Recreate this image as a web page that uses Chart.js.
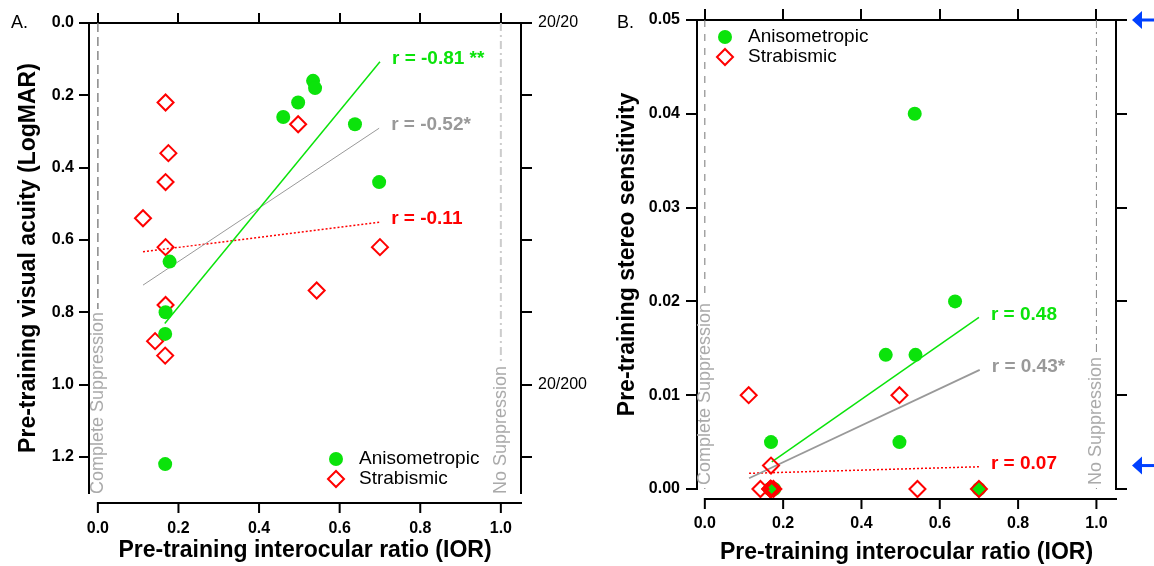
<!DOCTYPE html>
<html>
<head>
<meta charset="utf-8">
<title>Pre-training IOR vs visual acuity and stereo sensitivity</title>
<script src="https://cdn.jsdelivr.net/npm/chart.js@4.4.1/dist/chart.umd.min.js"></script>
<style>
  html, body { margin: 0; padding: 0; background: #fff; }
  #wrap { position: relative; width: 1154px; height: 566px; overflow: hidden; }
  #panel-a { position: absolute; left: 0; top: 0; }
  #panel-b { position: absolute; left: 600px; top: 0; }
</style>
</head>
<body>
<div id="wrap">
  <canvas id="panel-a" width="600" height="566"></canvas>
  <canvas id="panel-b" width="554" height="566"></canvas>
</div>
<script>
// Tick values shared by both panels
const iorTicks = [0, 0.2, 0.4, 0.6, 0.8, 1.0];
const acuityTicks = [0, 0.2, 0.4, 0.6, 0.8, 1.0, 1.2];
const snellenValues = [0, 1.0];
const snellenLabels = ['20/20', '20/200'];
const stereoTicks = [0, 0.01, 0.02, 0.03, 0.04, 0.05];

// Panel A - visual acuity (LogMAR)
const anisoIorA = [0.534, 0.539, 0.497, 0.460, 0.638, 0.698, 0.178, 0.168, 0.167, 0.167];
const anisoAcuity = [0.16, 0.18, 0.22, 0.26, 0.28, 0.44, 0.66, 0.80, 0.86, 1.22];
const strabIorA = [0.168, 0.497, 0.175, 0.168, 0.112, 0.168, 0.700, 0.543, 0.168, 0.142, 0.167];
const strabAcuity = [0.22, 0.28, 0.36, 0.44, 0.54, 0.62, 0.62, 0.74, 0.78, 0.88, 0.92];

// regression lines (end points), panel A
const fitIorAnisoA = [0.166, 0.700];
const fitAcuityAniso = [0.831, 0.107];
const fitIorAllA = [0.112, 0.698];
const fitAcuityAll = [0.725, 0.291];
const fitIorStrabA = [0.112, 0.698];
const fitAcuityStrab = [0.633, 0.551];
const rLabelsA = ['r = -0.81 **', 'r = -0.52*', 'r = -0.11'];

// Panel B - stereo sensitivity
const anisoIorB = [0.536, 0.639, 0.462, 0.538, 0.169, 0.497, 0.177, 0.700, 0.167, 0.167];
const anisoStereo = [0.04, 0.02, 0.0143, 0.0143, 0.005, 0.005, 0, 0, 0, 0];
const strabIorB = [0.112, 0.497, 0.169, 0.142, 0.169, 0.175, 0.168, 0.167, 0.543, 0.700, 0.168];
const strabStereo = [0.01, 0.01, 0.0025, 0, 0, 0, 0, 0, 0, 0, 0];

const fitIorAnisoB = [0.171, 0.700];
const fitStereoAniso = [0.0029, 0.0183];
const fitIorAllB = [0.113, 0.702];
const fitStereoAll = [0.00114, 0.0127];
const fitIorStrabB = [0.113, 0.700];
const fitStereoStrab = [0.00167, 0.00237];
const rLabelsB = ['r = 0.48', 'r = 0.43*', 'r = 0.07'];

// arrows on the right axis of panel B
const normalStereo = [0.05, 0.0025];

const FONT = "'Liberation Sans', Arial, Helvetica, sans-serif";
const GREEN = '#0be30b';
const RED = '#ff0000';
const GREY = '#999999';
const BLUE = '#0040ff';

const pts = (xs, ys) => xs.map((x, i) => ({ x: x, y: ys[i] }));

function fixedTicks(values) {
    return scale => { scale.ticks = values.map(v => ({ value: v })); };
}

function marker(ctx, style, r, x, y) {
    ctx.beginPath();
    if (style === 'circle') {
        ctx.arc(x, y, r, 0, Math.PI * 2);
    } else {
        ctx.moveTo(x - r, y);
        ctx.lineTo(x, y - r);
        ctx.lineTo(x + r, y);
        ctx.lineTo(x, y + r);
        ctx.closePath();
    }
    ctx.fill();
}

// Extra drawing: reference lines, offset bottom axis, r labels, legend, arrows
const decor = {
    id: 'decor',
    beforeDatasetsDraw(chart, args, o) {
        const { ctx, chartArea: a } = chart;
        const x = chart.scales.x;
        ctx.save();
        ctx.font = '18px ' + FONT;
        o.refLines.forEach(r => {
            const px = x.getPixelForValue(r.value);
            const yb = a.bottom + o.refTextShift;
            const w = ctx.measureText(r.text).width;
            ctx.strokeStyle = r.color;
            ctx.lineWidth = r.width;
            ctx.setLineDash(r.dash);
            ctx.beginPath();
            ctx.moveTo(px, a.top);
            ctx.lineTo(px, yb - w - 3);
            if (yb + 3 < a.bottom) {
                ctx.moveTo(px, yb + 3);
                ctx.lineTo(px, a.bottom);
            }
            ctx.stroke();
            ctx.setLineDash([]);
            ctx.save();
            ctx.translate(px, yb);
            ctx.rotate(-Math.PI / 2);
            ctx.fillStyle = '#aaaaaa';
            ctx.textAlign = 'left';
            ctx.textBaseline = 'middle';
            ctx.fillText(r.text, 0, 0);
            ctx.restore();
        });
        ctx.restore();
    },
    afterDraw(chart, args, o) {
        const { ctx, chartArea: a } = chart;
        const { x, y } = chart.scales;
        ctx.save();

        // bottom axis sits a little below the plot
        const by = a.bottom + o.axisGap;
        ctx.strokeStyle = '#000';
        ctx.lineWidth = 2;
        ctx.beginPath();
        ctx.moveTo(x.getPixelForValue(iorTicks[0]) - 1, by);
        ctx.lineTo(a.right + 1, by);
        iorTicks.forEach(v => {
            const px = x.getPixelForValue(v);
            ctx.moveTo(px, by);
            ctx.lineTo(px, by + 10);
        });
        ctx.stroke();

        // correlation labels at the end of each fit line
        ctx.font = 'bold 19px ' + FONT;
        ctx.textAlign = 'left';
        ctx.textBaseline = 'middle';
        chart.data.datasets.forEach((ds, i) => {
            if (!ds.fitLabel) return;
            const els = chart.getDatasetMeta(i).data;
            const end = els[els.length - 1];
            ctx.fillStyle = ds.labelColor;
            ctx.fillText(ds.fitLabel, end.x + 12, end.y - 3);
        });

        // legend inside the plot
        ctx.font = '19px ' + FONT;
        let k = 0;
        chart.data.datasets.forEach(ds => {
            if (!ds.legendLabel) return;
            const ly = o.legend.y + k * o.legend.dy;
            if (ds.pointStyle === 'circle') {
                ctx.fillStyle = ds.backgroundColor;
                marker(ctx, 'circle', ds.pointRadius, o.legend.x, ly);
            } else {
                ctx.fillStyle = '#fff';
                marker(ctx, 'diamond', ds.pointRadius, o.legend.x, ly);
                ctx.strokeStyle = ds.borderColor;
                ctx.lineWidth = ds.borderWidth;
                ctx.stroke();
            }
            ctx.fillStyle = '#000';
            ctx.fillText(ds.legendLabel, o.legend.x + 23, ly);
            k++;
        });

        // panel letter
        ctx.font = '18px ' + FONT;
        ctx.fillText(o.letter, o.letterX, 23);

        // arrows to the right of the axis
        ctx.fillStyle = BLUE;
        (o.arrows || []).forEach(v => {
            const py = y.getPixelForValue(v);
            const ax = a.right + 16;
            ctx.beginPath();
            ctx.moveTo(ax, py);
            ctx.lineTo(ax + 10, py - 9);
            ctx.lineTo(ax + 10, py + 9);
            ctx.closePath();
            ctx.fill();
            ctx.fillRect(ax + 8, py - 1.5, chart.width - ax - 8, 3);
        });
        ctx.restore();
    }
};

function scatterSets(p) {
    const aniso = {
        label: 'Anisometropic', legendLabel: 'Anisometropic',
        data: p.aniso, pointStyle: 'circle', pointRadius: 7,
        backgroundColor: GREEN, borderColor: GREEN, borderWidth: 0,
        order: p.anisoOrder, clip: false
    };
    const strab = {
        label: 'Strabismic', legendLabel: 'Strabismic',
        data: p.strab, pointStyle: 'rectRot', pointRadius: 8,
        backgroundColor: 'rgba(0,0,0,0)', borderColor: RED, borderWidth: 2,
        order: p.strabOrder, clip: false
    };
    const fits = [
        { data: p.fitAniso, borderColor: GREEN, borderWidth: 1.5, labelColor: GREEN, fitLabel: p.rLabels[0] },
        { data: p.fitAll, borderColor: GREY, borderWidth: p.greyWidth, labelColor: GREY, fitLabel: p.rLabels[1] },
        { data: p.fitStrab, borderColor: RED, borderWidth: 1.5, borderDash: [2, 2], labelColor: RED, fitLabel: p.rLabels[2] }
    ].map(f => Object.assign(f, { showLine: true, pointRadius: 0, order: 5, clip: false, fill: false }));
    return [aniso, strab].concat(fits);
}

function makePanel(id, p) {
    const H = 566;
    const tickFont = { family: FONT, size: 16, weight: 'bold' };
    const titleFont = { family: FONT, size: 23, weight: 'bold' };
    const axisGrid = len => ({ drawOnChartArea: false, tickLength: len, color: '#000', lineWidth: 2 });
    const axisBorder = { display: true, color: '#000', width: 2 };

    return new Chart(document.getElementById(id), {
        type: 'scatter',
        data: { datasets: scatterSets(p) },
        options: {
            responsive: false,
            animation: false,
            devicePixelRatio: 1,
            events: [],
            layout: { padding: 0 },
            plugins: {
                legend: { display: false },
                tooltip: { enabled: false },
                decor: p.decor
            },
            scales: {
                x: {
                    type: 'linear', position: 'bottom', min: p.xMin, max: p.xMax,
                    afterBuildTicks: fixedTicks(iorTicks),
                    afterFit: s => { s.height = H - p.bottom; },
                    border: { display: false },
                    grid: { drawOnChartArea: false, tickLength: p.xLabelGap, color: 'rgba(0,0,0,0)' },
                    ticks: { padding: 0, autoSkip: false, maxRotation: 0, color: '#000', font: tickFont,
                             callback: v => v.toFixed(1) },
                    title: { display: true, text: 'Pre-training interocular ratio (IOR)', color: '#000',
                             font: titleFont, padding: { top: 0, bottom: p.xTitlePad } }
                },
                x2: {
                    type: 'linear', position: 'top', min: p.xMin, max: p.xMax,
                    afterBuildTicks: fixedTicks(iorTicks),
                    afterFit: s => { s.height = p.top; },
                    border: axisBorder,
                    grid: axisGrid(p.topTick),
                    ticks: { display: false }
                },
                y: {
                    type: 'linear', position: 'left', min: p.yMin, max: p.yMax, reverse: p.reverse,
                    afterBuildTicks: fixedTicks(p.yTicks),
                    afterFit: s => { s.width = p.left; },
                    border: axisBorder,
                    grid: axisGrid(p.leftTick),
                    ticks: { padding: p.yLabelPad, autoSkip: false, color: '#000', font: tickFont,
                             callback: p.yFormat },
                    title: { display: true, text: p.yTitle, color: '#000', font: titleFont,
                             padding: { top: p.yTitlePad, bottom: 0 } }
                },
                y2: {
                    type: 'linear', position: 'right', min: p.yMin, max: p.yMax, reverse: p.reverse,
                    afterBuildTicks: fixedTicks(p.yTicks),
                    afterFit: s => { s.width = p.width - p.right; },
                    border: axisBorder,
                    grid: axisGrid(11),
                    ticks: { display: p.rightLabels, padding: 6, autoSkip: false, color: '#000',
                             font: { family: FONT, size: 16 },
                             callback: v => {
                                 const i = snellenValues.indexOf(v);
                                 return i < 0 ? '' : snellenLabels[i];
                             } }
                }
            }
        },
        plugins: [decor]
    });
}

makePanel('panel-a', {
    width: 600, left: 89, right: 521, top: 23, bottom: 493,
    xMin: -0.022, xMax: 1.05, yMin: 0, yMax: 1.3, reverse: true,
    yTicks: acuityTicks, yFormat: v => v.toFixed(1),
    yTitle: 'Pre-training visual acuity (LogMAR)',
    xLabelGap: 26, xTitlePad: 2, yLabelPad: 5, yTitlePad: 14.5,
    leftTick: 10, topTick: 10, rightLabels: true,
    aniso: pts(anisoIorA, anisoAcuity), strab: pts(strabIorA, strabAcuity),
    anisoOrder: 0, strabOrder: 1, greyWidth: 1,
    fitAniso: pts(fitIorAnisoA, fitAcuityAniso),
    fitAll: pts(fitIorAllA, fitAcuityAll),
    fitStrab: pts(fitIorStrabA, fitAcuityStrab),
    rLabels: rLabelsA,
    decor: {
        axisGap: 10, refTextShift: 1, letter: 'A.', letterX: 11,
        legend: { x: 336, y: 459, dy: 20 },
        refLines: [
            { value: 0, text: 'Complete Suppression', color: '#888', width: 1.5, dash: [9, 5] },
            { value: 1, text: 'No Suppression', color: '#cccccc', width: 2, dash: [8, 4, 2, 4] }
        ]
    }
});

makePanel('panel-b', {
    width: 554, left: 97, right: 516, top: 20, bottom: 489,
    xMin: -0.02, xMax: 1.05, yMin: 0, yMax: 0.05, reverse: false,
    yTicks: stereoTicks, yFormat: v => v.toFixed(2),
    yTitle: 'Pre-training stereo sensitivity',
    xLabelGap: 25, xTitlePad: 0, yLabelPad: 6, yTitlePad: 13.5,
    leftTick: 11, topTick: 11, rightLabels: false,
    aniso: pts(anisoIorB, anisoStereo), strab: pts(strabIorB, strabStereo),
    anisoOrder: 1, strabOrder: 0, greyWidth: 1.8,
    fitAniso: pts(fitIorAnisoB, fitStereoAniso),
    fitAll: pts(fitIorAllB, fitStereoAll),
    fitStrab: pts(fitIorStrabB, fitStereoStrab),
    rLabels: rLabelsB,
    decor: {
        axisGap: 10, refTextShift: -4, letter: 'B.', letterX: 17,
        legend: { x: 125, y: 37, dy: 20 },
        arrows: normalStereo,
        refLines: [
            { value: 0, text: 'Complete Suppression', color: '#777', width: 1, dash: [7, 7] },
            { value: 1, text: 'No Suppression', color: '#888', width: 1, dash: [8, 4, 2, 4] }
        ]
    }
});
</script>
</body>
</html>
